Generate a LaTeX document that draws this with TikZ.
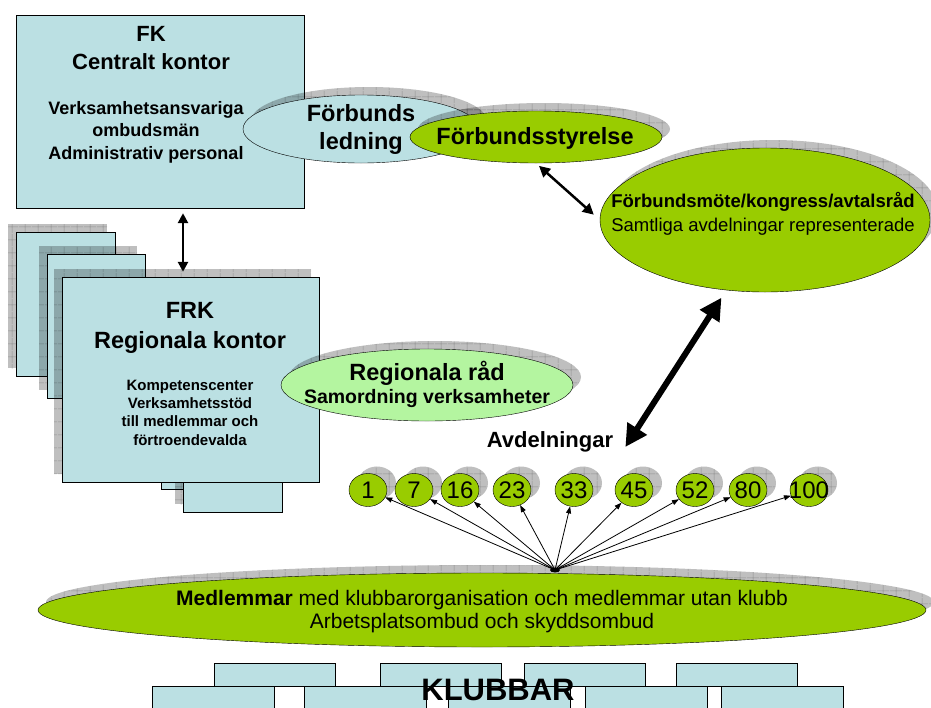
\documentclass[tikz,border=0pt]{standalone}
\usepackage{fontspec}
\setmainfont{Liberation Sans}
\usetikzlibrary{shapes.geometric,shadows,arrows.meta,patterns.meta}

\definecolor{boxblue}{RGB}{187,224,227}
\definecolor{leafgreen}{RGB}{153,204,0}
\definecolor{palegreen}{RGB}{180,245,160}

\newcommand{\fsz}[2]{\fontsize{#1}{#2}\selectfont}

\begin{document}
\begin{tikzpicture}[x=1pt, y=-1pt,
		gridshade/.style={fill=black, opacity=.25,
				postaction={pattern={Hatch[angle=0,distance=13pt,line width=.6pt]}, pattern color=black}},
		boxshadow/.style={drop shadow={shadow xshift=-8pt, shadow yshift=8pt, gridshade}},
		ovalshadow/.style={drop shadow={shadow xshift=8pt, shadow yshift=8pt, gridshade}},
		office/.style={draw, fill=boxblue, rectangle, inner sep=0pt},
		oval/.style={draw, ellipse, inner sep=0pt, ovalshadow},
		txt/.style={align=center, inner sep=0pt},
		num/.style={draw, ellipse, fill=leafgreen, minimum width=38pt, minimum height=33pt,
				inner sep=0pt, font=\fsz{24}{26},
				drop shadow={shadow xshift=9pt, shadow yshift=7pt, gridshade}},
		fan/.style={-{Triangle[length=7pt,width=5pt]}, line width=.8pt},
		dbl/.style={{Triangle[length=#1,width=#1]}-{Triangle[length=#1,width=#1]}}
	]
	\useasboundingbox (0,0) rectangle (931,707);

	% Central office
	\node[office, minimum width=288pt, minimum height=193pt] (fk) at (160,111.5) {};
	\node[txt, font=\bfseries\fsz{22}{28}] (fktitle) at (151,48) {FK\\Centralt kontor};
	\node[txt, font=\bfseries\fsz{18}{22.5}] (fkbody) at (146,132)
	{Verksamhetsansvariga\\ombudsmän\\Administrativ personal};

	% Regional offices, stacked
	\node[office, boxshadow, minimum width=99pt, minimum height=144pt] (rkA) at (65.5,304) {};
	\node[office, boxshadow, minimum width=98pt, minimum height=144pt] (rkB) at (96,326) {};
	\node[office, boxshadow, minimum width=99pt, minimum height=69pt] (rkD) at (210.5,454.5) {};
	\node[office, boxshadow, minimum width=99pt, minimum height=72pt] (rkE) at (232.5,476) {};
	\node[office, boxshadow, minimum width=257pt, minimum height=205pt] (frk) at (190.5,379.5) {};
	\node[txt, font=\bfseries\fsz{23.5}{30}] (frktitle) at (190,328) {FRK\\Regionala kontor};
	\node[txt, font=\bfseries\fsz{15}{18.3}] (frkbody) at (190,412.5)
	{Kompetenscenter\\Verksamhetsstöd\\till medlemmar och\\förtroendevalda};

	% Union management and board
	\node[oval, fill=boxblue, minimum width=236pt, minimum height=68pt] (ledning) at (361,129) {};
	\node[txt, font=\bfseries\fsz{23.5}{28}] (ledningtext) at (361,129) {Förbunds\\ledning};
	\node[oval, fill=leafgreen, minimum width=252pt, minimum height=52pt] (styrelse) at (536,137) {};
	\node[txt, font=\bfseries\fsz{23.5}{28}] (styrelsetext) at (535,138) {Förbundsstyrelse};

	% Congress
	\node[oval, fill=leafgreen, minimum width=330pt, minimum height=144pt] (kongress) at (765,220) {};
	\node[txt, font=\fsz{18.5}{24}] (kongresstext) at (763,214)
	{\textbf{Förbundsmöte/kongress/avtalsråd}\\Samtliga avdelningar representerade};

	% Regional councils
	\node[oval, fill=palegreen, minimum width=292pt, minimum height=72pt] (regional) at (427,385) {};
	\node[txt, font=\bfseries\fsz{23.5}{26}] (regtitle) at (427,373) {Regionala råd};
	\node[txt, font=\bfseries\fsz{19.5}{22}] (regbody) at (427,398) {Samordning verksamheter};

	% Branches
	\node[txt, font=\bfseries\fsz{22}{26}] (avd) at (550,442) {Avdelningar};
	\foreach \n/\x in {1/368,7/414,16/460,23/512,33/574,45/634,52/695,80/748,100/809}
	\node[num] (n\n) at (\x,490) {\makebox[0pt]{\n}};

	% Members
	\node[oval, fill=leafgreen, minimum width=888pt, minimum height=74pt] (medlem) at (482,610) {};
	\node[txt, font=\fsz{21}{23.5}] (medlemtext) at (482,611.5)
	{\textbf{Medlemmar} med klubbarorganisation och medlemmar utan klubb\\Arbetsplatsombud och skyddsombud};

	% Fan of arrows up to the branches
	\coordinate (hub) at (555,570);
	\foreach \n in {1,7,16,23,33,45,52,80,100}
	\draw[fan] (hub) -- (n\n);
	\fill (hub) ellipse (5 and 2.5);

	% Clubs
	\foreach \x in {214,380,524,676}
	\node[office, anchor=north west, minimum width=121pt, minimum height=23pt] (top\x) at (\x,663) {};
	\foreach \x in {152,304,448,585,721}
	\node[office, anchor=north west, minimum width=122pt, minimum height=44pt] (low\x) at (\x,686) {};
	\node[txt, font=\bfseries\fsz{31}{34}] (klubbar) at (498,690) {KLUBBAR};

	% Connectors
	\coordinate (fkarrow) at (183,0);
	\draw[dbl=10pt, line width=2.5pt, shorten <=5pt, shorten >=5pt]
	(fk.south -| fkarrow) -- (frk.north -| fkarrow);
	\draw[dbl=11pt, line width=2.5pt, shorten <=4pt, shorten >=8pt]
	(styrelse.south) -- (kongress.west);
	\draw[dbl=22pt, line width=6pt]
	([xshift=12pt,yshift=-5pt]avd.east) -- ([yshift=-8pt]kongress.238);
\end{tikzpicture}
\end{document}
